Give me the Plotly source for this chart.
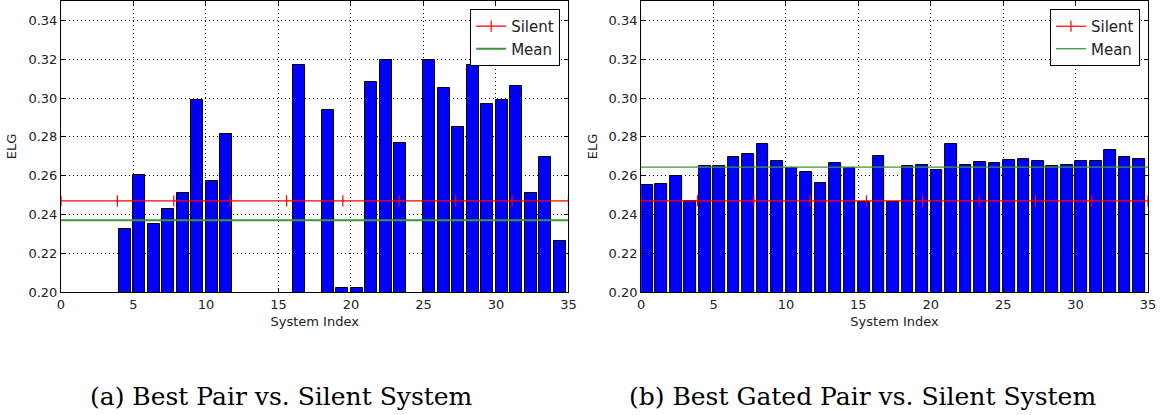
import plotly.graph_objects as go

# ---------------- data ----------------
system_index = list(range(35))

best_pair_elg = [None, None, None, None, 0.2325, 0.2601, 0.2350, 0.2429, 0.2508, 0.2990,
                 0.2570, 0.2813, None, None, None, None, 0.3171, None, 0.2939, 0.2020,
                 0.2020, 0.3080, 0.3197, 0.2767, None, 0.3197, 0.3052, 0.2853, 0.3171, 0.2970,
                 0.2992, 0.3064, 0.2508, 0.2698, 0.2262]

best_gated_elg = [0.2550, 0.2555, 0.2600, 0.2468, 0.2648, 0.2648, 0.2694, 0.2713, 0.2763, 0.2677,
                  0.2641, 0.2618, 0.2560, 0.2666, 0.2637, 0.2462, 0.2701, 0.2462, 0.2648, 0.2656,
                  0.2627, 0.2763, 0.2656, 0.2668, 0.2663, 0.2679, 0.2687, 0.2674, 0.2648, 0.2656,
                  0.2674, 0.2674, 0.2730, 0.2697, 0.2686]

silent_elg = 0.247
mean_elg_a = 0.237
mean_elg_b = 0.2644

# x positions of the '+' markers along the Silent line
silent_marker_x = [0, 3.89, 7.78, 11.67, 15.56, 19.44, 23.33, 27.22, 31.11, 35]
line_x = [0, 35]

x_ticks = [0, 5, 10, 15, 20, 25, 30, 35]
y_ticks = [0.20, 0.22, 0.24, 0.26, 0.28, 0.30, 0.32, 0.34]

captions = ["(a) Best Pair vs. Silent System", "(b) Best Gated Pair vs. Silent System"]

# ---------------- style ----------------
BLUE = "#0000ff"
RED = "#ff0000"
GREEN = "#3a9a3a"
SANS = "DejaVu Sans"

fig = go.Figure()

def add_panel(values, mean_val, xa, ya, legend_name, mean_width):
    fig.add_trace(go.Bar(
        x=system_index, y=values, width=0.8, offset=0,
        marker=dict(color=BLUE, line=dict(color="black", width=1)),
        xaxis=xa, yaxis=ya, showlegend=False, hoverinfo="x+y",
    ))
    fig.add_trace(go.Scatter(
        x=silent_marker_x, y=[silent_elg] * len(silent_marker_x),
        mode="lines+markers", name="Silent",
        line=dict(color=RED, width=1.2),
        marker=dict(symbol="line-ns", size=8, line=dict(color=RED, width=1.2)),
        xaxis=xa, yaxis=ya, legend=legend_name,
    ))
    fig.add_trace(go.Scatter(
        x=line_x, y=[mean_val] * len(line_x),
        mode="lines", name="Mean",
        line=dict(color=GREEN, width=mean_width),
        xaxis=xa, yaxis=ya, legend=legend_name,
    ))

add_panel(best_pair_elg, mean_elg_a, "x", "y", "legend", 2)
add_panel(best_gated_elg, mean_elg_b, "x2", "y2", "legend2", 1.3)

axis_common = dict(
    showline=True, linecolor="black", linewidth=1, mirror="allticks",
    ticks="inside", ticklen=4, tickcolor="black", tickwidth=1,
    showgrid=True, gridcolor="black", gridwidth=1, griddash="1px,3px",
    zeroline=False, tickfont=dict(family=SANS, size=13, color="#222"),
)

xaxis_common = dict(axis_common, range=[0, 35], tickvals=x_ticks,
                    title=dict(text="System Index", font=dict(family=SANS, size=13, color="#222"), standoff=6))
yaxis_common = dict(axis_common, range=[0.20, 0.35], tickvals=y_ticks, tickformat=".2f",
                    title=dict(text="ELG", font=dict(family=SANS, size=13, color="#222"), standoff=8))

legend_common = dict(
    bgcolor="white", bordercolor="black", borderwidth=1,
    font=dict(family=SANS, size=15, color="#222"),
    xanchor="right", yanchor="top", y=0.9726, tracegroupgap=0,
)

fig.update_layout(
    width=1168, height=415,
    margin=dict(l=61, r=20, t=1, b=123),
    paper_bgcolor="white", plot_bgcolor="white",
    bargap=0,
    xaxis=dict(xaxis_common, domain=[0, 0.4668], anchor="y"),
    yaxis=dict(yaxis_common, domain=[0, 1], anchor="x"),
    xaxis2=dict(xaxis_common, domain=[0.5337, 1], anchor="y2"),
    yaxis2=dict(yaxis_common, domain=[0, 1], anchor="x2"),
    legend=dict(legend_common, x=0.4592),
    legend2=dict(legend_common, x=0.9926),
    annotations=[
        dict(text=captions[0], xref="paper", yref="paper", x=0.2026, y=-0.36,
             xanchor="center", yanchor="middle", showarrow=False,
             font=dict(family="DejaVu Serif", size=25, color="black")),
        dict(text=captions[1], xref="paper", yref="paper", x=0.7374, y=-0.36,
             xanchor="center", yanchor="middle", showarrow=False,
             font=dict(family="DejaVu Serif", size=25, color="black")),
    ],
)

fig.write_html("out.html", config={"displayModeBar": False},
               post_script="document.body.style.margin='0px';")
